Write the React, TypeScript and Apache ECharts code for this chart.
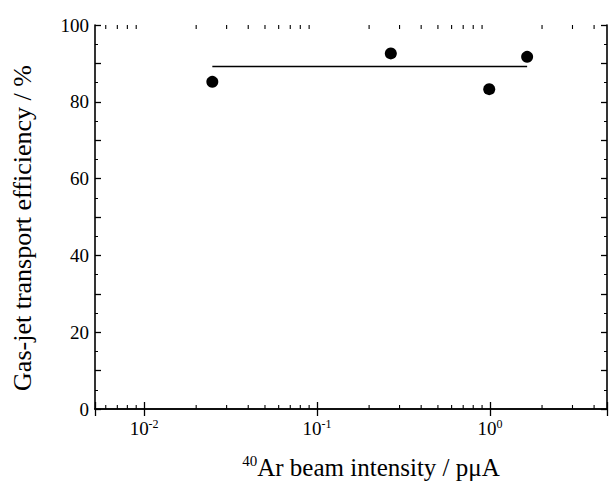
import React, { useEffect, useRef } from "react";
import * as echarts from "echarts";

// Beam intensity (pμA) and measured gas-jet transport efficiency (%)
const beamIntensity = [0.0248, 0.267, 0.99, 1.64];
const efficiency = [85.2, 92.6, 83.3, 91.7];

// Horizontal fit over the measured range
const fitX = [0.0248, 1.64];
const fitY = [89.2, 89.2];

// Axis ranges and tick labels
const xMin = 0.0052;
const xMax = 4.75;
const yTickLabels = [0, 20, 40, 60, 80, 100];

// Log-axis minor tick positions (2..9 × 10^k) inside the x range
const minorTicks: number[] = [];
for (let k = -3; k <= 1; k++) {
  for (let m = 2; m <= 9; m++) {
    const v = m * Math.pow(10, k);
    if (v > xMin && v < xMax) minorTicks.push(v);
  }
}

const FONT = "'Liberation Serif', 'DejaVu Serif', 'Times New Roman', serif";
const INK = "#000";

export default function App() {
  const ref = useRef<HTMLDivElement>(null);

  useEffect(() => {
    if (!ref.current) return;
    const chart = echarts.init(ref.current, undefined, { renderer: "svg" });

    const logLabel = (v: number) => {
      const e = Math.log10(v);
      const r = Math.round(e);
      if (Math.abs(e - r) > 1e-6) return "";
      return `{b|10}{s|${r}}`;
    };

    const xBase = {
      type: "log" as const,
      logBase: 10,
      min: xMin,
      max: xMax,
      axisLine: { show: true, lineStyle: { color: INK, width: 1.6 } },
      axisTick: { show: true, inside: true, length: 7, lineStyle: { color: INK, width: 1.3 } },
      splitLine: { show: false },
    };

    const yBase = {
      type: "value" as const,
      min: 0,
      max: 100,
      interval: 10,
      axisLine: { show: true, lineStyle: { color: INK, width: 1.6 } },
      axisTick: { show: true, inside: true, length: 6, lineStyle: { color: INK, width: 1.3 } },
      minorTick: { show: true, splitNumber: 2, length: 3, lineStyle: { color: INK, width: 1 } },
      splitLine: { show: false },
    };

    chart.setOption({
      animation: false,
      backgroundColor: "#fff",
      grid: { left: 95, right: 2, top: 25, bottom: 80 },
      xAxis: [
        {
          ...xBase,
          position: "bottom",
          axisLabel: {
            margin: 9,
            color: INK,
            formatter: logLabel,
            rich: {
              b: { fontFamily: FONT, fontSize: 19, color: INK },
              s: { fontFamily: FONT, fontSize: 12, color: INK, verticalAlign: "top", padding: [0, 0, 9, 0] },
            },
          },
        },
        {
          ...xBase,
          position: "top",
          axisLabel: { show: false },
        },
      ],
      yAxis: [
        {
          ...yBase,
          position: "left",
          axisLabel: {
            margin: 6,
            color: INK,
            fontFamily: FONT,
            fontSize: 19,
            formatter: (v: number) => (yTickLabels.includes(v) ? String(v) : ""),
          },
        },
        {
          ...yBase,
          position: "right",
          axisLabel: { show: false },
        },
      ],
      graphic: [
        {
          type: "text",
          x: 22,
          y: 228,
          rotation: Math.PI / 2,
          style: {
            text: "Gas-jet transport efficiency / %",
            fontFamily: FONT,
            fontSize: 26,
            fill: INK,
            align: "center",
            verticalAlign: "middle",
          },
        },
        {
          type: "text",
          x: 371,
          y: 467,
          style: {
            text: "{s|40}{b|Ar beam intensity / pμA}",
            align: "center",
            verticalAlign: "middle",
            rich: {
              b: { fontFamily: FONT, fontSize: 25, fill: INK },
              s: { fontFamily: FONT, fontSize: 15, fill: INK, verticalAlign: "top", padding: [0, 0, 12, 0] },
            },
          },
        },
      ],
      series: [
        {
          type: "custom",
          name: "minor ticks",
          xAxisIndex: 0,
          yAxisIndex: 0,
          silent: true,
          clip: false,
          data: minorTicks.map((v) => [v]),
          encode: { x: 0 },
          renderItem: (_params: any, api: any) => {
            const v = api.value(0);
            const b = api.coord([v, 0]);
            const t = api.coord([v, 100]);
            const style = { stroke: INK, lineWidth: 1.1 };
            return {
              type: "group",
              children: [
                { type: "line", shape: { x1: b[0], y1: b[1], x2: b[0], y2: b[1] - 4 }, style },
                { type: "line", shape: { x1: t[0], y1: t[1], x2: t[0], y2: t[1] + 4 }, style },
              ],
            };
          },
        },
        {
          type: "line",
          name: "fit",
          data: fitX.map((x, i) => [x, fitY[i]]),
          symbol: "none",
          lineStyle: { color: INK, width: 1.6 },
        },
        {
          type: "scatter",
          name: "efficiency",
          data: beamIntensity.map((x, i) => [x, efficiency[i]]),
          symbol: "circle",
          symbolSize: 12,
          itemStyle: { color: INK, opacity: 1 },
        },
      ],
    });

    return () => chart.dispose();
  }, []);

  return (
    <div
      ref={ref}
      style={{ position: "fixed", left: 0, top: 0, width: 610, height: 489, background: "#fff" }}
    />
  );
}
